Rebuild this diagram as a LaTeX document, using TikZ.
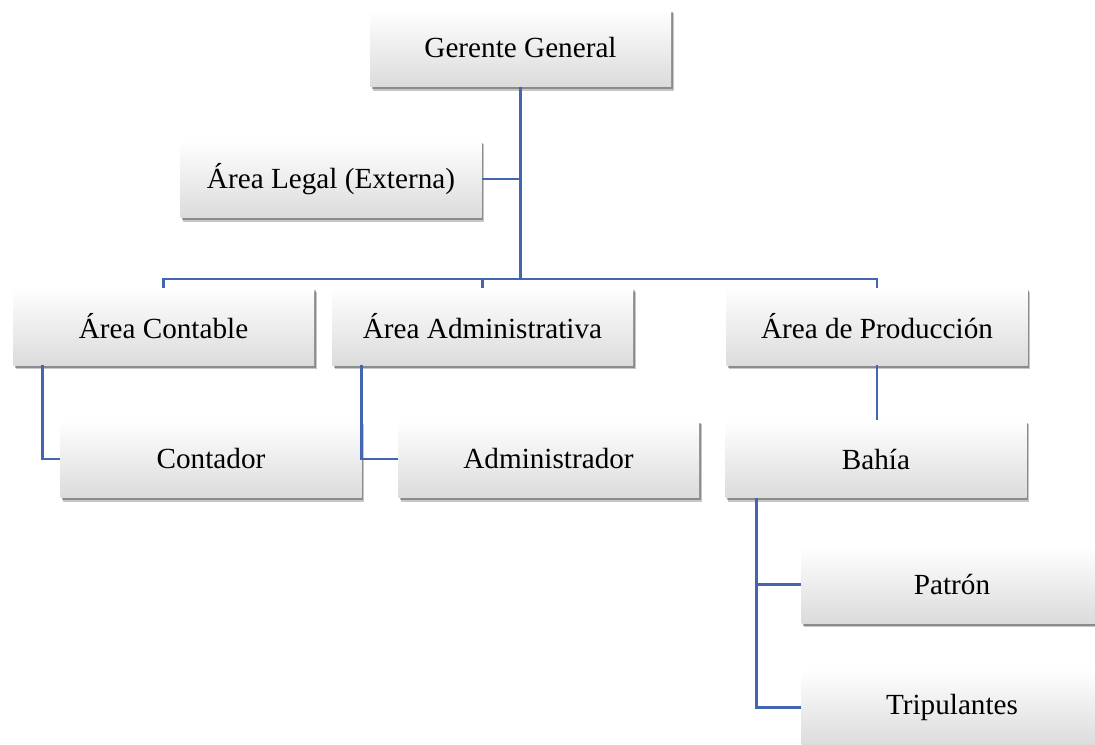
\documentclass[tikz,border=0pt]{standalone}
\usepackage{fontspec}
\setmainfont{Liberation Serif}
\usepackage{tikz}
\usepackage{xcolor}
\usetikzlibrary{shadows}
\definecolor{linkblue}{RGB}{66,103,176}

\begin{document}
\begin{tikzpicture}[x=0.75pt, y=-0.75pt,
            box/.style={rectangle, inner sep=0pt, minimum width=225.75pt, minimum height=58pt,
                top color=white, middle color=white, bottom color=black!14,
                drop shadow={shadow xshift=2pt, shadow yshift=-3pt, fill=black, opacity=0.22},
                drop shadow={shadow xshift=1.2pt, shadow yshift=-1.8pt, fill=black, opacity=0.3},
                font=\fontsize{21.9}{26}\selectfont},
            link/.style={linkblue, line width=2.1pt}
        ]
            \useasboundingbox (0,0) rectangle (1095,745);

            % Top level
            \node[box] (gerente) at (520.5,48) {Gerente General};
            \node[box] (legal) at (331,179) {Área Legal (Externa)};
            % Areas
            \node[box] (contable) at (163.5,326.5) {Área Contable};
            \node[box] (administrativa) at (482.5,326.5) {Área Administrativa};
            \node[box] (produccion) at (877,326.5) {Área de Producción};
            % Second level
            \node[box] (contador) at (211,459) {Contador};
            \node[box] (administrador) at (548.5,459) {Administrador};
            \node[box] (bahia) at (876,459) {Bahía};
            % Third level
            \node[box] (patron) at (952,584.5) {Patrón};
            \node[box] (tripulantes) at (952,707.5) {Tripulantes};

            \coordinate (bus) at (520.5,279);

            % Connectors
            \draw[link] (gerente.south) -- (bus);
            \draw[link] (legal.east) -- (legal.east -| bus);
            \draw[link] (contable.north) |- (bus) -| (produccion.north);
            \draw[link] (administrativa.north) -- (administrativa.north |- bus);
            \draw[link] ([xshift=22.5pt]contable.south west) |- (contador.west);
            \draw[link] ([xshift=22.5pt]administrativa.south west) |- (administrador.west);
            \draw[link] (produccion.south) -- (produccion.south |- bahia.north);
            \draw[link] ([xshift=23.25pt]bahia.south west) |- (patron.west);
            \draw[link] ([xshift=23.25pt]bahia.south west) |- (tripulantes.west);

        \end{tikzpicture}
\end{document}
